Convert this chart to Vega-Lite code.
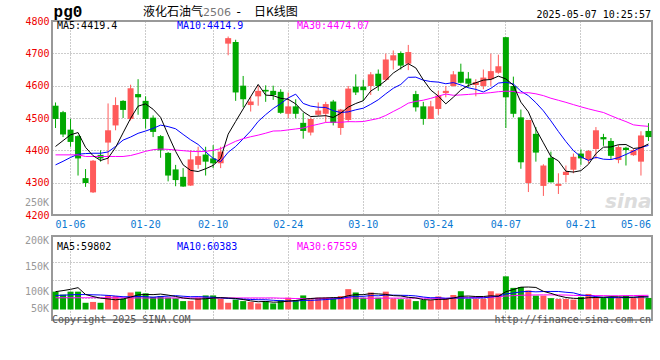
{
  "$schema": "https://vega.github.io/schema/vega-lite/v6.json",
  "padding": {"left": 23, "top": 3, "right": 5, "bottom": 5},
  "background": "white",
  "datasets": {
    "k": [
      {"d":"2025-01-02","o":4538,"h":4548,"l":4469,"c":4497,"m5":4412,"m10":4355,"m30":4386,"v":85000,"vm5":85000,"vm10":67000,"vm30":56000},
      {"d":"2025-01-03","o":4518,"h":4522,"l":4441,"c":4449,"m5":4430,"m10":4366,"m30":4386,"v":71000,"vm5":90000,"vm10":68000,"vm30":56000},
      {"d":"2025-01-06","o":4464,"h":4497,"l":4411,"c":4426,"m5":4448,"m10":4378,"m30":4386,"v":85000,"vm5":96000,"vm10":70000,"vm30":56000},
      {"d":"2025-01-07","o":4444,"h":4447,"l":4322,"c":4375,"m5":4455,"m10":4388,"m30":4386,"v":85000,"vm5":104000,"vm10":71000,"vm30":56000},
      {"d":"2025-01-08","o":4314,"h":4342,"l":4287,"c":4299,"m5":4409.2,"m10":4390,"m30":4381,"v":32000,"vm5":71600,"vm10":71000,"vm30":56000},
      {"d":"2025-01-09","o":4270,"h":4370,"l":4268,"c":4368,"m5":4383.4,"m10":4391,"m30":4381,"v":36000,"vm5":61800,"vm10":70000,"vm30":56000},
      {"d":"2025-01-10","o":4386,"h":4400,"l":4365,"c":4375,"m5":4368.6,"m10":4391,"m30":4381,"v":32000,"vm5":54000,"vm10":69000,"vm30":56000},
      {"d":"2025-01-13","o":4424,"h":4545,"l":4357,"c":4462,"m5":4375.8,"m10":4395,"m30":4381,"v":67000,"vm5":50400,"vm10":67000,"vm30":56000},
      {"d":"2025-01-14","o":4477,"h":4564,"l":4462,"c":4540,"m5":4408.8,"m10":4412,"m30":4381,"v":64000,"vm5":46200,"vm10":64000,"vm30":56000},
      {"d":"2025-01-15","o":4553,"h":4555,"l":4500,"c":4525,"m5":4454,"m10":4431.6,"m30":4381,"v":51000,"vm5":50000,"vm10":60800,"vm30":56000},
      {"d":"2025-01-16","o":4497,"h":4603,"l":4492,"c":4592,"m5":4498.8,"m10":4441.1,"m30":4384,"v":81000,"vm5":59000,"vm10":60400,"vm30":56000},
      {"d":"2025-01-17","o":4574,"h":4620,"l":4510,"c":4564,"m5":4536.6,"m10":4452.6,"m30":4390,"v":85000,"vm5":69600,"vm10":61800,"vm30":55000},
      {"d":"2025-01-20","o":4553,"h":4567,"l":4467,"c":4497,"m5":4543.6,"m10":4459.7,"m30":4397,"v":77000,"vm5":71600,"vm10":61000,"vm30":55000},
      {"d":"2025-01-21","o":4501,"h":4508,"l":4441,"c":4457,"m5":4527,"m10":4467.9,"m30":4402,"v":60000,"vm5":70800,"vm10":58500,"vm30":55000},
      {"d":"2025-01-22","o":4444,"h":4447,"l":4377,"c":4400,"m5":4502,"m10":4478,"m30":4404,"v":64000,"vm5":73400,"vm10":61700,"vm30":55000},
      {"d":"2025-01-23","o":4392,"h":4395,"l":4304,"c":4322,"m5":4448,"m10":4473.4,"m30":4403,"v":57000,"vm5":68600,"vm10":63800,"vm30":55000},
      {"d":"2025-01-24","o":4341,"h":4355,"l":4289,"c":4308,"m5":4396.8,"m10":4466.7,"m30":4401,"v":53000,"vm5":62200,"vm10":65900,"vm30":55000},
      {"d":"2025-01-27","o":4318,"h":4345,"l":4287,"c":4288,"m5":4355,"m10":4449.3,"m30":4399,"v":40000,"vm5":54800,"vm10":63200,"vm30":55000},
      {"d":"2025-02-05","o":4291,"h":4400,"l":4290,"c":4372,"m5":4338,"m10":4432.5,"m30":4397,"v":41000,"vm5":51000,"vm10":60900,"vm30":55000},
      {"d":"2025-02-06","o":4355,"h":4411,"l":4343,"c":4382,"m5":4334.4,"m10":4418.2,"m30":4396,"v":56000,"vm5":49400,"vm10":61400,"vm30":55000},
      {"d":"2025-02-07","o":4387,"h":4411,"l":4322,"c":4365,"m5":4343,"m10":4395.5,"m30":4397,"v":67000,"vm5":51400,"vm10":60000,"vm30":55000},
      {"d":"2025-02-10","o":4375,"h":4416,"l":4345,"c":4360,"m5":4353.4,"m10":4375.1,"m30":4400,"v":67000,"vm5":54200,"vm10":58200,"vm30":55000},
      {"d":"2025-02-11","o":4360,"h":4411,"l":4345,"c":4396,"m5":4375,"m10":4365,"m30":4405,"v":51000,"vm5":56400,"vm10":55600,"vm30":55000},
      {"d":"2025-02-12","o":4730,"h":4752,"l":4694,"c":4747,"m5":4450,"m10":4394,"m30":4417,"v":32000,"vm5":54600,"vm10":52800,"vm30":55000},
      {"d":"2025-02-13","o":4735,"h":4742,"l":4553,"c":4579,"m5":4489.4,"m10":4411.9,"m30":4428,"v":47000,"vm5":52800,"vm10":51100,"vm30":55000},
      {"d":"2025-02-14","o":4600,"h":4630,"l":4533,"c":4558,"m5":4528,"m10":4435.5,"m30":4436,"v":40000,"vm5":47400,"vm10":49400,"vm30":55000},
      {"d":"2025-02-17","o":4540,"h":4567,"l":4520,"c":4551,"m5":4566.2,"m10":4459.8,"m30":4442,"v":36000,"vm5":41200,"vm10":47700,"vm30":55000},
      {"d":"2025-02-18","o":4567,"h":4600,"l":4538,"c":4584,"m5":4603.8,"m10":4489.4,"m30":4447,"v":29000,"vm5":36800,"vm10":46600,"vm30":55000},
      {"d":"2025-02-19","o":4587,"h":4601,"l":4550,"c":4582,"m5":4570.8,"m10":4510.4,"m30":4453,"v":40000,"vm5":38400,"vm10":46500,"vm30":55000},
      {"d":"2025-02-20","o":4584,"h":4600,"l":4556,"c":4571,"m5":4569.2,"m10":4529.3,"m30":4459.7,"v":29000,"vm5":34800,"vm10":43800,"vm30":55300},
      {"d":"2025-02-21","o":4581,"h":4589,"l":4513,"c":4516,"m5":4560.8,"m10":4544.4,"m30":4460.3,"v":45000,"vm5":35800,"vm10":41600,"vm30":54000},
      {"d":"2025-02-24","o":4513,"h":4579,"l":4499,"c":4536,"m5":4557.8,"m10":4562,"m30":4463.2,"v":56000,"vm5":39800,"vm10":40500,"vm30":53500},
      {"d":"2025-02-25","o":4536,"h":4558,"l":4499,"c":4513,"m5":4543.6,"m10":4573.7,"m30":4466.1,"v":45000,"vm5":43000,"vm10":39900,"vm30":52200},
      {"d":"2025-02-26","o":4485,"h":4516,"l":4436,"c":4460,"m5":4519.2,"m10":4545,"m30":4469,"v":67000,"vm5":48400,"vm10":43400,"vm30":51600},
      {"d":"2025-02-27","o":4455,"h":4502,"l":4446,"c":4497,"m5":4504.4,"m10":4536.8,"m30":4475.6,"v":49000,"vm5":52400,"vm10":43600,"vm30":52100},
      {"d":"2025-02-28","o":4510,"h":4548,"l":4506,"c":4523,"m5":4505.8,"m10":4533.3,"m30":4480.7,"v":56000,"vm5":54600,"vm10":45200,"vm30":52800},
      {"d":"2025-03-03","o":4513,"h":4550,"l":4487,"c":4543,"m5":4507.2,"m10":4532.5,"m30":4486.3,"v":57000,"vm5":54800,"vm10":47300,"vm30":53600},
      {"d":"2025-03-04","o":4551,"h":4556,"l":4477,"c":4485,"m5":4501.6,"m10":4522.6,"m30":4487.1,"v":55000,"vm5":56800,"vm10":49900,"vm30":53200},
      {"d":"2025-03-05","o":4469,"h":4528,"l":4448,"c":4526,"m5":4514.8,"m10":4517,"m30":4486.6,"v":64000,"vm5":56200,"vm10":52300,"vm30":53200},
      {"d":"2025-03-06","o":4494,"h":4599,"l":4487,"c":4591,"m5":4533.6,"m10":4519,"m30":4488.8,"v":97000,"vm5":65800,"vm10":59100,"vm30":54800},
      {"d":"2025-03-07","o":4597,"h":4635,"l":4571,"c":4579,"m5":4544.8,"m10":4525.3,"m30":4488.4,"v":81000,"vm5":70800,"vm10":62700,"vm30":54800},
      {"d":"2025-03-10","o":4597,"h":4618,"l":4553,"c":4586,"m5":4553.4,"m10":4530.3,"m30":4489.1,"v":56000,"vm5":70600,"vm10":62700,"vm30":53800},
      {"d":"2025-03-11","o":4599,"h":4642,"l":4571,"c":4635,"m5":4583.4,"m10":4542.5,"m30":4493.7,"v":81000,"vm5":75800,"vm10":66300,"vm30":53900},
      {"d":"2025-03-12","o":4637,"h":4650,"l":4584,"c":4599,"m5":4598,"m10":4556.4,"m30":4498.5,"v":56000,"vm5":74200,"vm10":65200,"vm30":53800},
      {"d":"2025-03-13","o":4618,"h":4699,"l":4614,"c":4681,"m5":4616,"m10":4574.8,"m30":4507.8,"v":85000,"vm5":71800,"vm10":68800,"vm30":54500},
      {"d":"2025-03-14","o":4678,"h":4709,"l":4650,"c":4694,"m5":4639,"m10":4591.9,"m30":4520.2,"v":52000,"vm5":66000,"vm10":68400,"vm30":54300},
      {"d":"2025-03-17","o":4701,"h":4706,"l":4650,"c":4662,"m5":4654.2,"m10":4603.8,"m30":4532,"v":49000,"vm5":64600,"vm10":67600,"vm30":54200},
      {"d":"2025-03-18","o":4668,"h":4726,"l":4648,"c":4704,"m5":4668,"m10":4625.7,"m30":4545.9,"v":49000,"vm5":58200,"vm10":67000,"vm30":54500},
      {"d":"2025-03-19","o":4574,"h":4584,"l":4520,"c":4533,"m5":4654.8,"m10":4626.4,"m30":4551.3,"v":40000,"vm5":55000,"vm10":64600,"vm30":54500},
      {"d":"2025-03-20","o":4536,"h":4550,"l":4479,"c":4497,"m5":4618,"m10":4617,"m30":4555.1,"v":45000,"vm5":47000,"vm10":59400,"vm30":54100},
      {"d":"2025-03-21","o":4497,"h":4553,"l":4497,"c":4536,"m5":4586.4,"m10":4612.7,"m30":4560.8,"v":45000,"vm5":45600,"vm10":55800,"vm30":53400},
      {"d":"2025-03-24","o":4528,"h":4584,"l":4510,"c":4569,"m5":4567.8,"m10":4611,"m30":4567.8,"v":62000,"vm5":48200,"vm10":56400,"vm30":53200},
      {"d":"2025-03-25","o":4577,"h":4599,"l":4564,"c":4584,"m5":4543.8,"m10":4605.9,"m30":4574,"v":51000,"vm5":48600,"vm10":53400,"vm30":53200},
      {"d":"2025-03-26","o":4599,"h":4645,"l":4597,"c":4635,"m5":4564.2,"m10":4609.5,"m30":4570.3,"v":69000,"vm5":54400,"vm10":54700,"vm30":54400},
      {"d":"2025-03-27","o":4643,"h":4668,"l":4607,"c":4609,"m5":4586.6,"m10":4602.3,"m30":4571.3,"v":87000,"vm5":62800,"vm10":54900,"vm30":55800},
      {"d":"2025-03-28","o":4622,"h":4642,"l":4594,"c":4606,"m5":4600.6,"m10":4593.5,"m30":4572.9,"v":51000,"vm5":64000,"vm10":54800,"vm30":56100},
      {"d":"2025-03-31","o":4602,"h":4620,"l":4567,"c":4611,"m5":4609,"m10":4588.4,"m30":4574.9,"v":51000,"vm5":61800,"vm10":55000,"vm30":56600},
      {"d":"2025-04-01","o":4599,"h":4650,"l":4589,"c":4625,"m5":4617.2,"m10":4580.5,"m30":4576.3,"v":51000,"vm5":61800,"vm10":55200,"vm30":57400},
      {"d":"2025-04-02","o":4620,"h":4699,"l":4599,"c":4645,"m5":4619.2,"m10":4591.7,"m30":4578.4,"v":87000,"vm5":65400,"vm10":59900,"vm30":58900},
      {"d":"2025-04-03","o":4640,"h":4696,"l":4637,"c":4660,"m5":4629.4,"m10":4608,"m30":4581.3,"v":76000,"vm5":63200,"vm10":63000,"vm30":60500},
      {"d":"2025-04-07","o":4750,"h":4750,"l":4469,"c":4564,"m5":4621,"m10":4610.8,"m30":4582.9,"v":158000,"vm5":84600,"vm10":74300,"vm30":64300},
      {"d":"2025-04-08","o":4599,"h":4628,"l":4502,"c":4513,"m5":4601.4,"m10":4605.2,"m30":4582.2,"v":103000,"vm5":95000,"vm10":78400,"vm30":65800},
      {"d":"2025-04-09","o":4502,"h":4526,"l":4343,"c":4363,"m5":4549,"m10":4583.1,"m30":4577.2,"v":107000,"vm5":106200,"vm10":84000,"vm30":67900},
      {"d":"2025-04-10","o":4299,"h":4494,"l":4271,"c":4494,"m5":4518.8,"m10":4569,"m30":4578.3,"v":91000,"vm5":107000,"vm10":86200,"vm30":68700},
      {"d":"2025-04-11","o":4451,"h":4472,"l":4365,"c":4393,"m5":4465.4,"m10":4547.4,"m30":4574.8,"v":66000,"vm5":105000,"vm10":84100,"vm30":69300},
      {"d":"2025-04-14","o":4290,"h":4357,"l":4259,"c":4353,"m5":4423.2,"m10":4522.1,"m30":4569.2,"v":66000,"vm5":86600,"vm10":85600,"vm30":69600},
      {"d":"2025-04-15","o":4377,"h":4396,"l":4301,"c":4301,"m5":4380.8,"m10":4491.1,"m30":4561.1,"v":54000,"vm5":76800,"vm10":85900,"vm30":69500},
      {"d":"2025-04-16","o":4290,"h":4329,"l":4265,"c":4296,"m5":4367.4,"m10":4458.2,"m30":4554.8,"v":50000,"vm5":65400,"vm10":85800,"vm30":69300},
      {"d":"2025-04-17","o":4324,"h":4353,"l":4301,"c":4334,"m5":4335.4,"m10":4427.1,"m30":4548.4,"v":50000,"vm5":57200,"vm10":82100,"vm30":68900},
      {"d":"2025-04-18","o":4340,"h":4390,"l":4329,"c":4380,"m5":4332.8,"m10":4399.1,"m30":4541.4,"v":47000,"vm5":53400,"vm10":79200,"vm30":67200},
      {"d":"2025-04-21","o":4390,"h":4403,"l":4355,"c":4375,"m5":4337.2,"m10":4380.2,"m30":4534.6,"v":60000,"vm5":52200,"vm10":69400,"vm30":66500},
      {"d":"2025-04-22","o":4370,"h":4401,"l":4360,"c":4398,"m5":4356.6,"m10":4368.7,"m30":4528.3,"v":74000,"vm5":56200,"vm10":66500,"vm30":67100},
      {"d":"2025-04-23","o":4404,"h":4472,"l":4373,"c":4462,"m5":4389.8,"m10":4378.6,"m30":4522.5,"v":55000,"vm5":57200,"vm10":61300,"vm30":66200},
      {"d":"2025-04-24","o":4441,"h":4451,"l":4414,"c":4434,"m5":4409.8,"m10":4372.6,"m30":4517,"v":55000,"vm5":58200,"vm10":57700,"vm30":66200},
      {"d":"2025-04-25","o":4429,"h":4438,"l":4373,"c":4383,"m5":4410.4,"m10":4371.6,"m30":4507.1,"v":60000,"vm5":60800,"vm10":57100,"vm30":65400},
      {"d":"2025-04-28","o":4370,"h":4416,"l":4360,"c":4410,"m5":4417.4,"m10":4377.3,"m30":4497.6,"v":57000,"vm5":60200,"vm10":56200,"vm30":65500},
      {"d":"2025-04-29","o":4408,"h":4411,"l":4353,"c":4401,"m5":4418,"m10":4387.3,"m30":4488.9,"v":65000,"vm5":58400,"vm10":57300,"vm30":66100},
      {"d":"2025-04-30","o":4385,"h":4404,"l":4383,"c":4401,"m5":4405.8,"m10":4397.8,"m30":4478.8,"v":55000,"vm5":58400,"vm10":57800,"vm30":66300},
      {"d":"2025-05-06","o":4365,"h":4459,"l":4322,"c":4446,"m5":4408.2,"m10":4409,"m30":4476,"v":67000,"vm5":60800,"vm10":59500,"vm30":67200},
      {"d":"2025-05-07","o":4460,"h":4484,"l":4429,"c":4441,"m5":4419.8,"m10":4415.1,"m30":4474.1,"v":55000,"vm5":59800,"vm10":60300,"vm30":67500}
    ]
  },
  "vconcat": [
    {
      "width": 600,
      "height": 194,
      "data": {"name": "k"},
      "encoding": {
        "x": {
          "field": "d", "type": "ordinal", "title": null,
          "scale": {"type": "band", "paddingInner": 0.2, "paddingOuter": 0.07},
          "axis": {
            "values": ["2025-01-06","2025-01-20","2025-02-10","2025-02-24","2025-03-10","2025-03-24","2025-04-07","2025-04-21","2025-05-06"],
            "labelExpr": "substring(datum.label, 5, 10)",
            "labelAngle": 0, "labelColor": "#0a78d2", "labelPadding": 4, "labelBaseline": "top",
            "gridOpacity": {"condition": {"test": "datum.value == '2025-05-06'", "value": 0}, "value": 1},
            "labelOffset": {"condition": {"test": "datum.value == '2025-05-06'", "value": -5}, "value": 0}
          }
        }
      },
      "layer": [
        {
          "mark": {"type": "rule", "strokeWidth": 1},
          "encoding": {
            "y": {"field": "l", "type": "quantitative", "title": null,
                  "scale": {"domain": [4200, 4800], "zero": false},
                  "axis": {"values": [4200,4300,4400,4500,4600,4700,4800], "format": "d", "tickCount": 7, "labelColor": "#ee0000", "labelPadding": 3, "labelOverlap": false}},
            "y2": {"field": "h"},
            "color": {"condition": {"test": "datum.c >= datum.o", "value": "#ff5a5a"}, "value": "#00a800"}
          }
        },
        {
          "mark": {"type": "bar"},
          "encoding": {
            "y": {"field": "o", "type": "quantitative", "title": null,
                  "axis": {"values": [4200,4300,4400,4500,4600,4700,4800], "format": "d", "tickCount": 7, "labelColor": "#ee0000", "labelPadding": 3, "labelOverlap": false}},
            "y2": {"field": "c"},
            "color": {"condition": {"test": "datum.c >= datum.o", "value": "#ff5a5a"}, "value": "#00a800"}
          }
        },
        {"mark": {"type": "line", "color": "#0000ff", "strokeWidth": 1}, "encoding": {"y": {"field": "m10", "type": "quantitative", "title": null, "axis": {"values": [4200,4300,4400,4500,4600,4700,4800], "format": "d", "tickCount": 7, "labelColor": "#ee0000", "labelPadding": 3, "labelOverlap": false}}}},
        {"mark": {"type": "line", "color": "#ff00ff", "strokeWidth": 1}, "encoding": {"y": {"field": "m30", "type": "quantitative", "title": null, "axis": {"values": [4200,4300,4400,4500,4600,4700,4800], "format": "d", "tickCount": 7, "labelColor": "#ee0000", "labelPadding": 3, "labelOverlap": false}}}},
        {"mark": {"type": "line", "color": "#000000", "strokeWidth": 1}, "encoding": {"y": {"field": "m5", "type": "quantitative", "title": null, "axis": {"values": [4200,4300,4400,4500,4600,4700,4800], "format": "d", "tickCount": 7, "labelColor": "#ee0000", "labelPadding": 3, "labelOverlap": false}}}},
        {"data": {"values": [{}]}, "mark": {"type": "text", "align": "left", "baseline": "alphabetic", "font": "DejaVu Sans Mono", "fontSize": 10, "color": "#000000", "dx": 1.5},
         "encoding": {"x": {"datum": "2025-01-02"}, "y": {"datum": 4774}, "text": {"value": "MA5:4419.4"}}},
        {"data": {"values": [{}]}, "mark": {"type": "text", "align": "left", "baseline": "alphabetic", "font": "DejaVu Sans Mono", "fontSize": 10, "color": "#0000ff", "dx": 1.4},
         "encoding": {"x": {"datum": "2025-01-24"}, "y": {"datum": 4774}, "text": {"value": "MA10:4414.9"}}},
        {"data": {"values": [{}]}, "mark": {"type": "text", "align": "left", "baseline": "alphabetic", "font": "DejaVu Sans Mono", "fontSize": 10, "color": "#ff00ff", "dx": 1.3},
         "encoding": {"x": {"datum": "2025-02-25"}, "y": {"datum": 4774}, "text": {"value": "MA30:4474.07"}}},
        {"data": {"values": [{}]}, "mark": {"type": "text", "align": "left", "baseline": "alphabetic", "font": "Liberation Mono", "fontWeight": "bold", "fontSize": 16, "color": "#000000", "dx": -2},
         "encoding": {"x": {"datum": "2025-01-02"}, "y": {"datum": 4812}, "text": {"value": "pg0"}}},
        {"data": {"values": [{}]}, "mark": {"type": "text", "align": "left", "baseline": "alphabetic", "font": "Noto Sans CJK SC", "fontSize": 12, "color": "#000000", "dx": -2.6},
         "encoding": {"x": {"datum": "2025-01-20"}, "y": {"datum": 4815}, "text": {"value": "液化石油气"}}},
        {"data": {"values": [{}]}, "mark": {"type": "text", "align": "left", "baseline": "alphabetic", "font": "DejaVu Sans", "fontSize": 11, "color": "#777777", "dx": -2.6},
         "encoding": {"x": {"datum": "2025-02-07"}, "y": {"datum": 4815}, "text": {"value": "2506"}}},
        {"data": {"values": [{}]}, "mark": {"type": "text", "align": "center", "baseline": "alphabetic", "font": "DejaVu Sans", "fontSize": 12, "color": "#000000", "dx": 3},
         "encoding": {"x": {"datum": "2025-02-13"}, "y": {"datum": 4815}, "text": {"value": "-"}}},
        {"data": {"values": [{}]}, "mark": {"type": "text", "align": "left", "baseline": "alphabetic", "font": "Noto Sans CJK SC", "fontSize": 12, "color": "#000000", "dx": 3.3},
         "encoding": {"x": {"datum": "2025-02-17"}, "y": {"datum": 4815}, "text": {"value": "日K线图"}}},
        {"data": {"values": [{}]}, "mark": {"type": "text", "align": "right", "baseline": "alphabetic", "font": "DejaVu Sans Mono", "fontSize": 10, "color": "#000000", "dx": 2.5},
         "encoding": {"x": {"datum": "2025-05-07"}, "y": {"datum": 4810}, "text": {"value": "2025-05-07 10:25:57"}}},
        {"data": {"values": [{}]}, "mark": {"type": "text", "align": "right", "baseline": "middle", "font": "DejaVu Sans", "fontStyle": "italic", "fontWeight": "bold", "fontSize": 20, "color": "#dcdcdc", "dx": 3},
         "encoding": {"x": {"datum": "2025-05-07"}, "y": {"datum": 4240}, "text": {"value": "sina"}}},
        {"data": {"values": [{}]}, "mark": {"type": "text", "align": "right", "baseline": "middle", "font": "DejaVu Sans Mono", "fontSize": 10, "color": "#999999", "dx": -6.5},
         "encoding": {"x": {"datum": "2025-01-02"}, "y": {"datum": 4237}, "text": {"value": "250K"}}}
      ]
    },
    {
      "width": 600,
      "height": 84,
      "data": {"name": "k"},
      "encoding": {
        "x": {
          "field": "d", "type": "ordinal", "title": null,
          "scale": {"type": "band", "paddingInner": 0.2, "paddingOuter": 0.07},
          "axis": {
            "values": ["2025-01-06","2025-01-20","2025-02-10","2025-02-24","2025-03-10","2025-03-24","2025-04-07","2025-04-21"],
            "labels": false
          }
        }
      },
      "layer": [
        {
          "mark": {"type": "bar"},
          "encoding": {
            "y": {"field": "v", "type": "quantitative", "title": null,
                  "scale": {"domain": [-30000, 314000], "zero": false},
                  "axis": {"values": [56000, 142000, 228000], "labels": false}},
            "y2": {"datum": 0},
            "color": {"condition": {"test": "datum.c >= datum.o", "value": "#ff5a5a"}, "value": "#00a800"}
          }
        },
        {"mark": {"type": "line", "color": "#ff00ff", "strokeWidth": 1}, "encoding": {"y": {"field": "vm30", "type": "quantitative", "title": null, "axis": {"values": [56000, 142000, 228000], "labels": false}}}},
        {"mark": {"type": "line", "color": "#0000ff", "strokeWidth": 1}, "encoding": {"y": {"field": "vm10", "type": "quantitative", "title": null, "axis": {"values": [56000, 142000, 228000], "labels": false}}}},
        {"mark": {"type": "line", "color": "#000000", "strokeWidth": 1}, "encoding": {"y": {"field": "vm5", "type": "quantitative", "title": null, "axis": {"values": [56000, 142000, 228000], "labels": false}}}},
        {"data": {"values": [{}]}, "mark": {"type": "text", "align": "left", "baseline": "alphabetic", "font": "DejaVu Sans Mono", "fontSize": 10, "color": "#000000", "dx": 1.5},
         "encoding": {"x": {"datum": "2025-01-02"}, "y": {"datum": 282600}, "text": {"value": "MA5:59802"}}},
        {"data": {"values": [{}]}, "mark": {"type": "text", "align": "left", "baseline": "alphabetic", "font": "DejaVu Sans Mono", "fontSize": 10, "color": "#0000ff", "dx": 1.4},
         "encoding": {"x": {"datum": "2025-01-24"}, "y": {"datum": 282600}, "text": {"value": "MA10:60383"}}},
        {"data": {"values": [{}]}, "mark": {"type": "text", "align": "left", "baseline": "alphabetic", "font": "DejaVu Sans Mono", "fontSize": 10, "color": "#ff00ff", "dx": 1.3},
         "encoding": {"x": {"datum": "2025-02-25"}, "y": {"datum": 282600}, "text": {"value": "MA30:67559"}}},
        {"data": {"values": [{}]}, "mark": {"type": "text", "align": "right", "baseline": "middle", "font": "DejaVu Sans Mono", "fontSize": 10, "color": "#999999", "dx": -6.5},
         "encoding": {"x": {"datum": "2025-01-02"}, "y": {"datum": 327600}, "text": {"value": "200K"}}},
        {"data": {"values": [{}]}, "mark": {"type": "text", "align": "right", "baseline": "middle", "font": "DejaVu Sans Mono", "fontSize": 10, "color": "#999999", "dx": -6.5},
         "encoding": {"x": {"datum": "2025-01-02"}, "y": {"datum": 204300}, "text": {"value": "150K"}}},
        {"data": {"values": [{}]}, "mark": {"type": "text", "align": "right", "baseline": "middle", "font": "DejaVu Sans Mono", "fontSize": 10, "color": "#999999", "dx": -6.5},
         "encoding": {"x": {"datum": "2025-01-02"}, "y": {"datum": 83500}, "text": {"value": "100K"}}},
        {"data": {"values": [{}]}, "mark": {"type": "text", "align": "right", "baseline": "middle", "font": "DejaVu Sans Mono", "fontSize": 10, "color": "#999999", "dx": -6.5},
         "encoding": {"x": {"datum": "2025-01-02"}, "y": {"datum": 2900}, "text": {"value": "50K"}}},
        {"data": {"values": [{}]}, "mark": {"type": "text", "align": "left", "baseline": "alphabetic", "font": "DejaVu Sans Mono", "fontSize": 10, "color": "#555555", "dx": -3.5},
         "encoding": {"x": {"datum": "2025-01-02"}, "y": {"datum": -65500}, "text": {"value": "Copyright 2025 SINA.COM"}}},
        {"data": {"values": [{}]}, "mark": {"type": "text", "align": "right", "baseline": "alphabetic", "font": "DejaVu Sans Mono", "fontSize": 10, "color": "#555555", "dx": 2.5},
         "encoding": {"x": {"datum": "2025-05-07"}, "y": {"datum": -65500}, "text": {"value": "http://finance.sina.com.cn"}}}
      ]
    }
  ],
  "spacing": 21,
  "bounds": "flush",
  "config": {
    "font": "DejaVu Sans Mono",
    "view": {"stroke": "#999999", "strokeWidth": 2},
    "axis": {
      "grid": true, "gridColor": "#999999", "gridDash": [1, 2], "gridWidth": 1,
      "ticks": false, "domain": false,
      "labelFont": "DejaVu Sans Mono", "labelFontSize": 10
    }
  }
}
